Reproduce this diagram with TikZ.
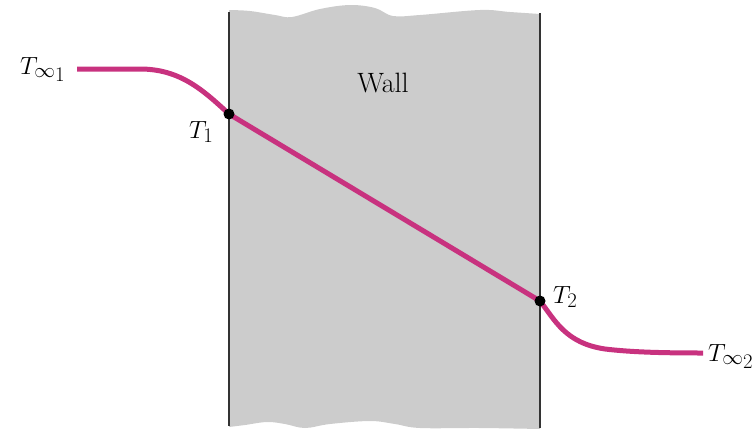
\documentclass[tikz,border=0pt]{standalone}
\begin{document}
\begin{tikzpicture}[x=1pt,y=-1pt,
  wallline/.style={draw=black!80,line width=2pt},
  tempcurve/.style={draw=curvecol,line width=5pt},
  dotmark/.style={circle,fill=black,inner sep=0pt,minimum size=11pt},
  lab/.style={anchor=base west,inner sep=0pt,font=\fontsize{29}{31}\selectfont}]
\definecolor{curvecol}{HTML}{C8327F}
\definecolor{wallgray}{HTML}{CCCCCC}
\useasboundingbox (0,0) rectangle (756,432);
% wall body
\fill[wallgray] plot[smooth,tension=0.6] coordinates {(229,10) (250,11) (275,15) (292,17) (320,9) (350,5) (375,8) (393,16) (420,15) (480,10) (510,12) (540,14)}
  -- plot[smooth,tension=0.6] coordinates {(540,429) (480,428) (420,428) (395,424) (370,421) (330,424) (305,428) (285,424) (267,422) (245,425) (229,427)} -- cycle;
\coordinate (wlt) at (229,12);
\coordinate (wlb) at (229,426);
\coordinate (wrt) at (540,13);
\coordinate (wrb) at (540,428);
\draw[wallline] (wlt) -- (wlb);
\draw[wallline] (wrt) -- (wrb);
\node[inner sep=0pt,anchor=base,font=\fontsize{28}{30}\selectfont] (wall) at (383,92) {Wall};
% temperature profile
\coordinate (s) at (77,69);
\coordinate (e) at (703,353);
\coordinate (t1) at (229,114);
\coordinate (t2) at (540,301);
\draw[tempcurve] (s) -- (140,69) .. controls (180,69) and (203,90) .. (t1);
\draw[tempcurve] (t1) -- (t2);
\draw[tempcurve] (t2) .. controls (555,320) and (565,343) .. (605,349) .. controls (630,352) and (660,353) .. (e);
\node[dotmark] (d1) at (t1) {};
\node[dotmark] (d2) at (t2) {};
% labels
\node[lab] (lti) at (20,74) {$T_{\infty\raisebox{-0.3ex}{$\scriptstyle 1$}}$};
\node[lab] (lt1) at (189,138) {$T_1$};
\node[lab] (lt2) at (553,303) {$T_2$};
\node[lab] (lte) at (708,361) {$T_{\infty\raisebox{-0.3ex}{$\scriptstyle 2$}}$};
\end{tikzpicture}
\end{document}
